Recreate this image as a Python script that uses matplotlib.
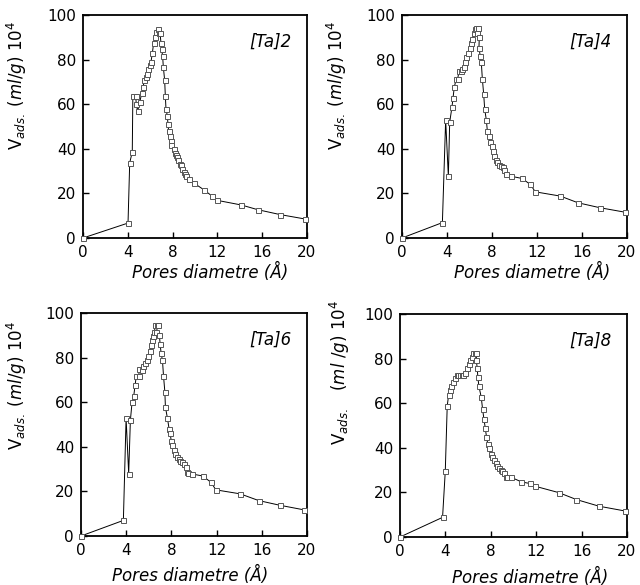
import matplotlib
matplotlib.use('Agg')
import matplotlib.pyplot as plt

## data (pore diameter in A, V_ads in ml/g 1e4)
ta2_x = [0, 4.02, 4.17, 4.4, 4.45, 4.7, 4.76, 4.88, 5.06, 5.24, 5.36, 5.48, 5.6, 5.71, 5.83,
         5.95, 6.07, 6.19, 6.31, 6.43, 6.55, 6.7, 6.79, 6.88, 6.96, 7.02, 7.11, 7.17, 7.29,
         7.35, 7.41, 7.53, 7.59, 7.65, 7.74, 7.83, 7.89, 8.1, 8.18, 8.27, 8.39, 8.51, 8.63,
         8.75, 8.87, 9.0, 9.1, 9.23, 9.43, 9.88, 10.77, 11.55, 11.96, 14.14, 15.6, 17.6, 19.85]
ta2_y = [0, 6.7, 33.7, 38.6, 63.8, 63.8, 59.9, 56.9, 60.8, 64.8, 67.5, 70.8, 72, 73.5, 75.6,
         77.4, 79, 82.8, 87.6, 90.3, 92.5, 93.6, 91.8, 91.8, 87.6, 84.6, 81.6, 76.8, 70.8,
         63.8, 57.8, 54.8, 50.9, 47.9, 45.8, 43.6, 41.9, 40.1, 37.9, 37.1, 36.4, 34.9, 33.4,
         32.6, 31.1, 29.6, 28.9, 27.8, 26.6, 24.7, 21.7, 18.7, 16.9, 14.8, 12.7, 10.5, 8.5]

ta4_x = [0, 3.59, 3.88, 4.12, 4.24, 4.44, 4.53, 4.65, 4.83, 4.95, 5.07, 5.21, 5.36, 5.48,
         5.6, 5.72, 5.9, 6.01, 6.13, 6.25, 6.37, 6.49, 6.6, 6.67, 6.76, 6.87, 6.84, 6.96,
         7.05, 7.14, 7.26, 7.35, 7.5, 7.59, 7.7, 7.85, 7.97, 8.06, 8.21, 8.33, 8.44, 8.62,
         8.8, 8.98, 9.1, 9.21, 9.69, 10.67, 11.41, 11.85, 14.07, 15.64, 17.57, 19.79]
ta4_y = [0, 6.9, 52.8, 27.7, 51.9, 58.7, 62.6, 67.7, 71.5, 71.5, 74.7, 75, 75.7, 76.9,
         79.1, 81.1, 82.9, 85.1, 87.3, 89.3, 91.8, 93.9, 94.2, 91.8, 94.3, 90, 85.4, 81.4,
         78.7, 71.5, 64.5, 57.8, 52.8, 47.8, 45.6, 42.9, 41.1, 38.9, 36.7, 35.2, 34.1, 32.6,
         32.2, 31.7, 30.7, 28.9, 27.7, 26.7, 24, 20.7, 18.8, 15.8, 13.6, 11.6]

ta6_x = [0, 3.75, 3.99, 4.22, 4.37, 4.52, 4.67, 4.79, 4.9, 5.11, 5.17, 5.38, 5.52, 5.7,
         5.82, 5.97, 6.12, 6.2, 6.29, 6.41, 6.5, 6.59, 6.71, 6.79, 6.68, 6.94, 7.0, 7.09,
         7.21, 7.3, 7.42, 7.47, 7.65, 7.8, 7.89, 7.98, 8.09, 8.21, 8.33, 8.48, 8.63, 8.77,
         8.95, 9.13, 9.25, 9.36, 9.51, 9.84, 10.78, 11.52, 11.93, 14.09, 15.72, 17.58, 19.76]
ta6_y = [0, 7, 52.8, 28, 51.9, 60, 62.9, 67.8, 71.9, 71.9, 74.9, 74.6, 76.3, 77.5,
         79, 80.8, 82.8, 85.8, 87.7, 89.8, 91.6, 94.8, 94.8, 94.8, 91.3, 90, 86.2, 82,
         78.7, 71.9, 64.7, 57.8, 52.8, 47.9, 46.1, 42.8, 40.9, 38.6, 36.7, 35.6, 34.6, 33.8,
         33.1, 32.3, 31.1, 28.9, 28.4, 27.8, 26.9, 24, 20.7, 18.9, 15.9, 13.8, 11.7]

ta8_x = [0, 3.75, 3.99, 4.16, 4.28, 4.4, 4.49, 4.69, 4.84, 4.99, 5.13, 5.28, 5.43, 5.57,
         5.75, 5.92, 6.04, 6.16, 6.3, 6.45, 6.6, 6.74, 6.72, 6.8, 6.86, 6.95, 7.16, 7.27,
         7.39, 7.51, 7.62, 7.74, 7.86, 7.98, 8.09, 8.27, 8.42, 8.56, 8.68, 8.86, 9.03, 9.15,
         9.33, 9.44, 9.74, 10.7, 11.44, 11.88, 13.99, 15.54, 17.54, 19.79]
ta8_y = [0, 8.8, 29.6, 58.7, 63.6, 65.9, 67.7, 69.6, 71.4, 72.6, 72.6, 72.6, 72.6, 72.6,
         73.7, 75.6, 77.5, 79.3, 80.8, 82.3, 82.6, 82.6, 79.3, 76, 71.6, 67.7, 62.6, 57.6,
         53, 49, 44.9, 41.6, 39.7, 37.1, 35.9, 34.4, 33.2, 31.9, 31, 29.9, 29.5, 28.7,
         26.9, 26.9, 26.9, 24.7, 24, 22.8, 19.9, 16.8, 13.8, 11.7]

names = ['[Ta]2', '[Ta]4', '[Ta]6', '[Ta]8']
xticks = [0, 4, 8, 12, 16, 20]
yticks = [0, 20, 40, 60, 80, 100]

W, H = 640, 585
fig = plt.figure(figsize=(W / 100, H / 100), dpi=100)

# axes boxes in pixels: left, top, right, bottom
boxes = [(83, 15, 307, 238), (402, 15, 627, 238), (81, 313, 307, 536), (400, 314, 627, 537)]
ylab_pos = [(17, 85), (337, 85), (17, 385), (340, 372)]
xlab_pos = [(210, 272), (532, 272), (190, 575), (530, 577)]
ylabels = [r'V$_{\mathit{ads.}}$ $\mathit{(ml/g)}$ $\mathit{10^4}$'] * 3 + \
          [r'V$_{\mathit{ads.}}$   $\mathit{(ml\ /g)}$ $\mathit{10^4}$']

series = [(ta2_x, ta2_y), (ta4_x, ta4_y), (ta6_x, ta6_y), (ta8_x, ta8_y)]

for i, (xs, ys) in enumerate(series):
    l, t, r, b = boxes[i]
    ax = fig.add_axes([l / W, 1 - b / H, (r - l) / W, (b - t) / H])
    ax.plot(xs, ys, color='black', lw=0.7, marker='s', ms=3.6, mfc='white',
            mec='#555555', mew=0.7, clip_on=False, zorder=3)
    ax.set_xlim(0, 20)
    ax.set_ylim(0, 100)
    ax.set_xticks(xticks)
    ax.set_yticks(yticks)
    ax.tick_params(direction='in', length=4, width=1, labelsize=11, pad=5)
    for s in ax.spines.values():
        s.set_linewidth(1.3)
    ax.text(0.93, 0.88, names[i], transform=ax.transAxes, ha='right', va='center',
            fontsize=12, style='italic')
    fig.text(ylab_pos[i][0] / W, 1 - ylab_pos[i][1] / H, ylabels[i], rotation=90,
             ha='center', va='center', fontsize=12)
    fig.text(xlab_pos[i][0] / W, 1 - xlab_pos[i][1] / H, 'Pores diametre (Å)',
             ha='center', va='center', fontsize=12, style='italic')

fig.savefig('out.png', dpi=100)
